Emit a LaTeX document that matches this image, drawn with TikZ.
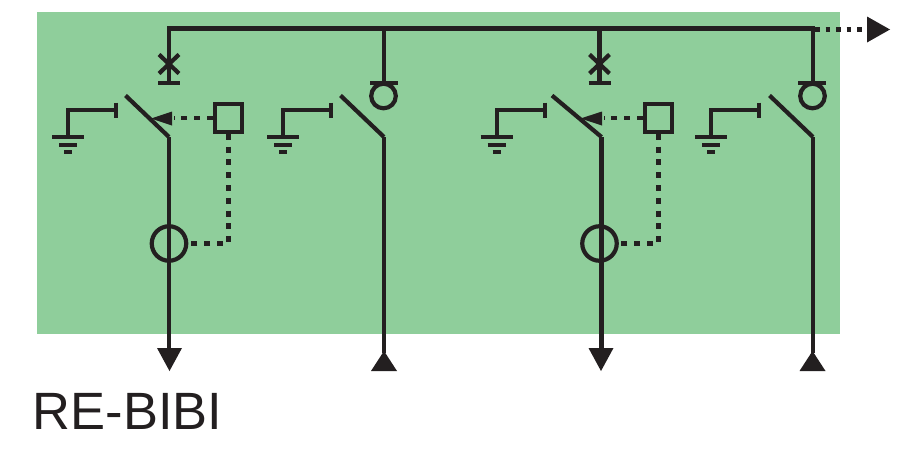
\documentclass[tikz,border=0pt]{standalone}
\usepackage{fontspec}
\setmainfont{Liberation Sans}
\definecolor{panel}{HTML}{8FCE9B}
\definecolor{ink}{HTML}{231F20}
\tikzset{
  wire/.style={draw=ink,line width=4.2pt,line cap=butt,line join=miter},
  thin wire/.style={draw=ink,line width=4pt},
  control/.style={draw=ink,line width=4.4pt,dash pattern=on 6pt off 6.8pt},
  busdots/.style={draw=ink,line width=4.6pt,dash pattern=on 4.5pt off 6pt},
  head/.style={fill=ink,draw=none},
  label text/.style={inner sep=0pt,anchor=base west,text=ink,font=\fontsize{52.5}{52.5}\selectfont},
  pics/earthing/.style={code={
    \draw[thin wire] (48,-7.5) -- (48,7.5);
    \draw[thin wire] (48,0) -| (0,27);
    \draw[thin wire] (-16,27) -- (16,27);
    \draw[thin wire] (-9,34.5) -- (9,34.5);
    \draw[draw=ink,line width=4.6pt] (-4,42) -- (4,42);
  }},
  pics/blade/.style={code={
    \draw[wire] (-43.5,-41.5) -- (0,0);
  }},
  pics/isolator/.style={code={
    \draw[wire] (-10,-9.5) -- (10,9.5) (-10,9.5) -- (10,-9.5);
    \draw[wire] (-11,19) -- (11,19);
  }},
}
\begin{document}
\begin{tikzpicture}[x=1pt,y=-1pt]
\useasboundingbox (0,0) rectangle (915,464);
\fill[panel] (37,12) rectangle (840,334);

% named points of the bus
\coordinate (busA) at (169,28.5);
\coordinate (busB) at (384,28.5);
\coordinate (busC) at (599.5,28.5);
\coordinate (busD) at (813,28.5);
\coordinate (busEnd) at (870,29.5);

\draw[wire] (169,83) -- (busA) -- (busD) -- (813,83);
\draw[wire] (busB) -- (384,83);
\draw[wire] (busC) -- (599.5,83);
\draw[busdots] (815,29.5) -- (busEnd);
\fill[head] (867,16.5) -- (890,29.5) -- (867,42.5) -- cycle;

% isolators on the feeder poles
\pic at (169,64) {isolator};
\pic at (599.5,64) {isolator};

% lower contacts and feeder lines
\coordinate (hingeA) at (169,137);
\coordinate (hingeB) at (384,137);
\coordinate (hingeC) at (601.5,137);
\coordinate (bladeC) at (552,95.5);
\coordinate (hingeD) at (813,137);
\pic at (hingeA) {blade};
\pic at (hingeB) {blade};
\draw[wire] (bladeC) -- (hingeC);
\pic at (hingeD) {blade};

\draw[wire] (hingeA) -- (169,350);
\draw[wire] (hingeB) -- (384,353);
\draw[wire] (hingeC) -- (601.5,350);
\draw[wire] (hingeD) -- (813,353);

% outgoing / incoming arrowheads
\fill[head] (157,348) -- (182,348) -- (169.5,371) -- cycle;
\fill[head] (588.5,348) -- (613.5,348) -- (601,371) -- cycle;
\fill[head] (371,371) -- (397,371) -- (384,351) -- cycle;
\fill[head] (799.5,371) -- (825.5,371) -- (812.5,351) -- cycle;

% earthing switches
\pic at (68,110) {earthing};
\pic at (283,110) {earthing};
\pic at (496.5,110) {earthing};
\pic at (711,110) {earthing};

% coils on the load-break poles
\draw[wire] (370,83) -- (398,83);
\draw[wire] (798,83) -- (826,83);
\draw[wire] (383.5,96) circle (12.3);
\draw[wire] (812.5,96) circle (12.3);

% left protected feeder
\node[draw=ink,line width=4.2pt,minimum size=27.5pt,inner sep=0pt] (relayA) at (228.5,118) {};
\node[draw=ink,line width=4.2pt,circle,minimum size=34.5pt,inner sep=0pt] (ctA) at (169,243.5) {};
\draw[control] (relayA.west) -- (174,118);
\fill[head] (151,118.5) -- (172,111.5) -- (172,125.5) -- cycle;
\draw[control] (relayA.south) |- (ctA.east);

% right protected feeder
\node[draw=ink,line width=4.2pt,minimum size=27.5pt,inner sep=0pt] (relayB) at (658.5,118) {};
\node[draw=ink,line width=4.2pt,circle,minimum size=34.5pt,inner sep=0pt] (ctB) at (599.5,243.5) {};
\draw[control] (relayB.west) -- (604,118);
\fill[head] (580.5,118.5) -- (602,111.5) -- (602,125.5) -- cycle;
\draw[control] (relayB.south) |- (ctB.east);

\node[label text] (title) at (32.5,429) {RE-BIBI};
\end{tikzpicture}
\end{document}
